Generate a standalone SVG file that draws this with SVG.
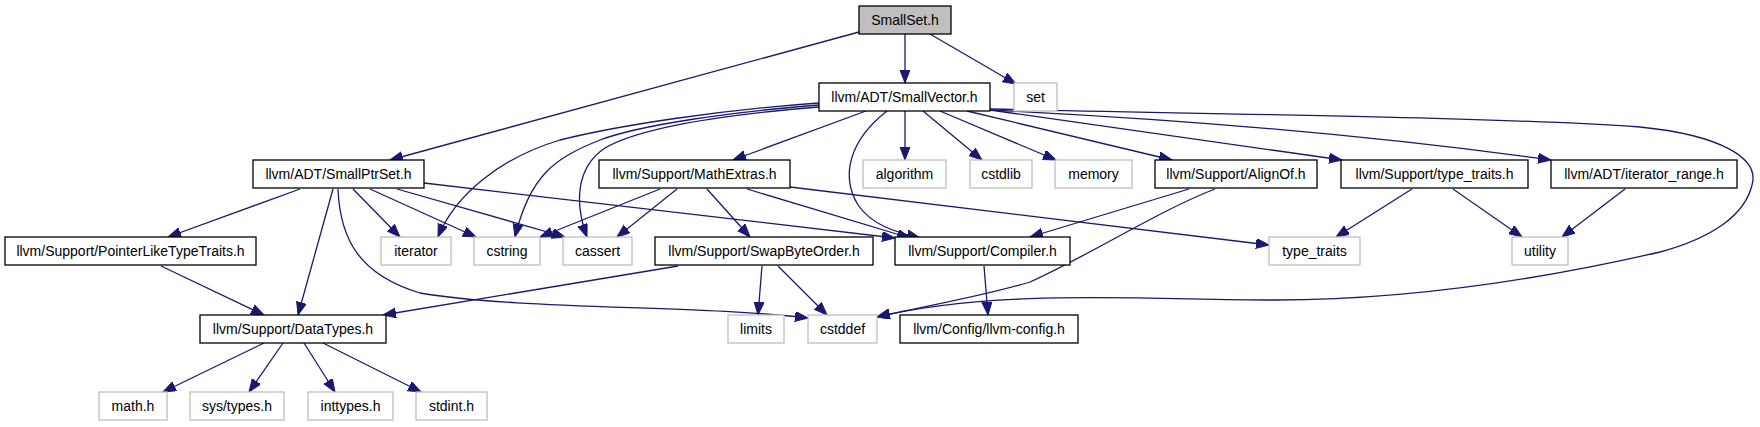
<svg xmlns="http://www.w3.org/2000/svg" width="1760" height="427" viewBox="0 0 1760 427">
<style>
.n rect{fill:#ffffff;stroke:#000000;stroke-width:1.3}
.n.ext rect{stroke:#bfbfbf}
.n.root rect{fill:#bfbfbf}
.n text{font-family:"Liberation Sans",Arial,sans-serif;font-size:14px;fill:#000000;text-anchor:middle}
#edges path{fill:none;stroke:#191970;stroke-width:1.3;marker-end:url(#arr)}
</style>
<defs>
<marker id="arr" markerWidth="14" markerHeight="11" refX="13" refY="5" orient="auto" markerUnits="userSpaceOnUse">
<path d="M0,0 L13,5 L0,10 z" fill="#191970" stroke="#191970" stroke-width="1"/>
</marker>
</defs>
<rect width="1760" height="427" fill="#ffffff"/>
<g id="edges">
<path d="M859,32 L390,160"/>
<path d="M905,34 L905,83"/>
<path d="M930,34 L1016,84"/>
<path d="M866,111 L733,160"/>
<path d="M905,111 L905,160"/>
<path d="M923,111 L982,160"/>
<path d="M940,111 L1056,160"/>
<path d="M967,111 L1172,160"/>
<path d="M990,110 L1342,160"/>
<path d="M990,110 Q1300,125 1551,160"/>
<path d="M990,109 C1200,114 1500,117 1640,127 C1720,135 1760,158 1752,185 C1745,215 1712,238 1660,252 C1560,275 1420,300 1275,300 C1150,300 1000,288 877,317"/>
<path d="M887,111 C850,140 840,175 858,205 C872,225 895,232 920,238"/>
<path d="M819,103 C720,110 620,125 560,140 C500,158 455,195 438,237"/>
<path d="M819,105 C730,112 640,125 600,140 C555,158 530,175 515,237"/>
<path d="M819,107 C720,115 640,128 605,148 C575,168 575,205 587,237"/>
<path d="M300,189 L168,237"/>
<path d="M333,189 L298,315"/>
<path d="M353,189 L400,237"/>
<path d="M370,189 L476,237"/>
<path d="M397,189 L565,237"/>
<path d="M424,183 L895,238"/>
<path d="M338,189 C340,240 360,275 420,293 C520,310 700,305 808,318"/>
<path d="M161,266 L264,315"/>
<path d="M660,189 L540,237"/>
<path d="M677,189 L617,237"/>
<path d="M707,189 L750,237"/>
<path d="M747,189 L910,238"/>
<path d="M790,187 L1269,245"/>
<path d="M678,266 L383,315"/>
<path d="M762,266 L758,315"/>
<path d="M778,266 L827,315"/>
<path d="M984,266 L988,315"/>
<path d="M1189,189 L1030,237"/>
<path d="M1215,189 C1160,210 1090,255 1030,282 C980,297 920,307 877,317"/>
<path d="M1412,189 L1336,237"/>
<path d="M1453,189 L1522,237"/>
<path d="M1625,189 L1562,237"/>
<path d="M264,343 L163,392"/>
<path d="M283,343 L249,392"/>
<path d="M304,343 L335,392"/>
<path d="M323,343 L421,392"/>
</g>
<g id="n_smallset" class="n root"><rect x="859" y="6" width="92" height="28"/><text x="905" y="25">SmallSet.h</text></g>
<g id="n_smallvector" class="n"><rect x="819" y="83" width="171" height="28"/><text x="904.5" y="102">llvm/ADT/SmallVector.h</text></g>
<g id="n_set" class="n ext"><rect x="1014" y="83" width="43" height="28"/><text x="1035.5" y="102">set</text></g>
<g id="n_smallptrset" class="n"><rect x="253" y="160" width="171" height="28"/><text x="338.5" y="179">llvm/ADT/SmallPtrSet.h</text></g>
<g id="n_mathextras" class="n"><rect x="599" y="160" width="191" height="28"/><text x="694.5" y="179">llvm/Support/MathExtras.h</text></g>
<g id="n_algorithm" class="n ext"><rect x="863" y="160" width="83" height="28"/><text x="904.5" y="179">algorithm</text></g>
<g id="n_cstdlib" class="n ext"><rect x="970" y="160" width="62" height="28"/><text x="1001" y="179">cstdlib</text></g>
<g id="n_memory" class="n ext"><rect x="1055" y="160" width="77" height="28"/><text x="1093.5" y="179">memory</text></g>
<g id="n_alignof" class="n"><rect x="1155" y="160" width="162" height="28"/><text x="1236" y="179">llvm/Support/AlignOf.h</text></g>
<g id="n_typetraits_h" class="n"><rect x="1341" y="160" width="187" height="28"/><text x="1434.5" y="179">llvm/Support/type_traits.h</text></g>
<g id="n_iterator_range" class="n"><rect x="1551" y="160" width="186" height="28"/><text x="1644" y="179">llvm/ADT/iterator_range.h</text></g>
<g id="n_pointerlike" class="n"><rect x="5" y="237" width="251" height="28"/><text x="130.5" y="256">llvm/Support/PointerLikeTypeTraits.h</text></g>
<g id="n_iterator" class="n ext"><rect x="381" y="237" width="70" height="28"/><text x="416" y="256">iterator</text></g>
<g id="n_cstring" class="n ext"><rect x="474" y="237" width="66" height="28"/><text x="507" y="256">cstring</text></g>
<g id="n_cassert" class="n ext"><rect x="563" y="237" width="69" height="28"/><text x="597.5" y="256">cassert</text></g>
<g id="n_swapbyteorder" class="n"><rect x="655" y="237" width="218" height="28"/><text x="764" y="256">llvm/Support/SwapByteOrder.h</text></g>
<g id="n_compiler" class="n"><rect x="895" y="237" width="175" height="28"/><text x="982.5" y="256">llvm/Support/Compiler.h</text></g>
<g id="n_type_traits" class="n ext"><rect x="1269" y="237" width="91" height="28"/><text x="1314.5" y="256">type_traits</text></g>
<g id="n_utility" class="n ext"><rect x="1512" y="237" width="56" height="28"/><text x="1540" y="256">utility</text></g>
<g id="n_datatypes" class="n"><rect x="200" y="315" width="186" height="28"/><text x="293" y="334">llvm/Support/DataTypes.h</text></g>
<g id="n_limits" class="n ext"><rect x="728" y="315" width="56" height="28"/><text x="756" y="334">limits</text></g>
<g id="n_cstddef" class="n ext"><rect x="808" y="315" width="69" height="28"/><text x="842.5" y="334">cstddef</text></g>
<g id="n_llvmconfig" class="n"><rect x="900" y="315" width="178" height="28"/><text x="989" y="334">llvm/Config/llvm-config.h</text></g>
<g id="n_math" class="n ext"><rect x="99" y="392" width="68" height="28"/><text x="133" y="411">math.h</text></g>
<g id="n_systypes" class="n ext"><rect x="190" y="392" width="94" height="28"/><text x="237" y="411">sys/types.h</text></g>
<g id="n_inttypes" class="n ext"><rect x="308" y="392" width="85" height="28"/><text x="350.5" y="411">inttypes.h</text></g>
<g id="n_stdint" class="n ext"><rect x="416" y="392" width="71" height="28"/><text x="451.5" y="411">stdint.h</text></g>
</svg>
